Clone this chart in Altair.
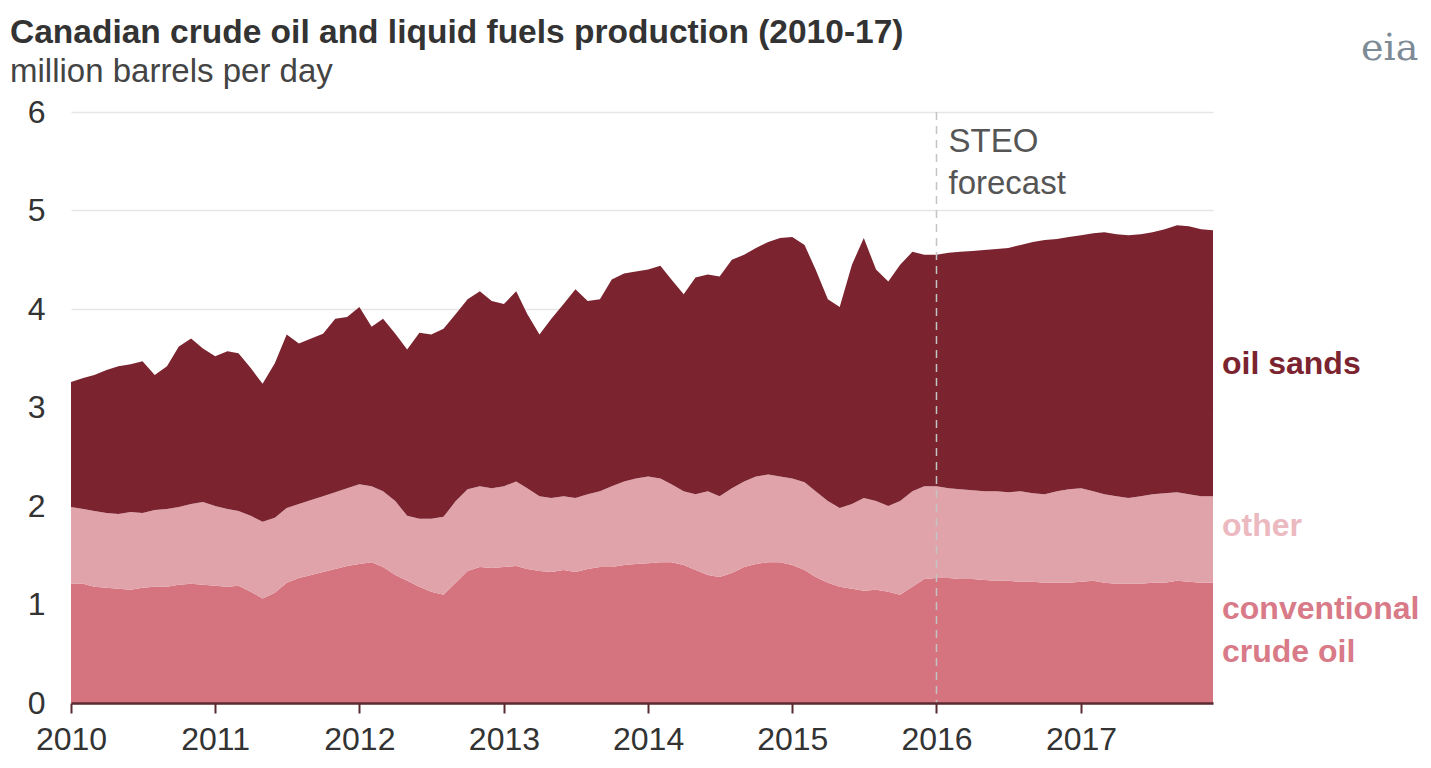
import altair as alt
import pandas as pd

# ---- data (million barrels per day, monthly Jan 2010 - Dec 2017) ----
months = pd.date_range("2010-01-01", "2017-12-01", freq="MS").strftime("%Y-%m-%d").tolist()

conventional = [
    1.21, 1.21, 1.18, 1.17, 1.16, 1.15, 1.17, 1.18, 1.18, 1.20, 1.21, 1.20,
    1.19, 1.18, 1.19, 1.13, 1.06, 1.12, 1.22, 1.27, 1.30, 1.33, 1.36, 1.39,
    1.41, 1.43, 1.38, 1.30, 1.24, 1.18, 1.13, 1.10, 1.22, 1.34, 1.38, 1.37,
    1.38, 1.39, 1.36, 1.34, 1.33, 1.35, 1.33, 1.36, 1.38, 1.38, 1.40, 1.41,
    1.42, 1.43, 1.43, 1.40, 1.35, 1.30, 1.28, 1.32, 1.38, 1.41, 1.43, 1.43,
    1.40, 1.35, 1.28, 1.22, 1.18, 1.16, 1.14, 1.15, 1.13, 1.10, 1.18, 1.26,
    1.27, 1.27, 1.26, 1.26, 1.25, 1.24, 1.24, 1.23, 1.23, 1.22, 1.22, 1.22,
    1.23, 1.24, 1.22, 1.21, 1.21, 1.21, 1.22, 1.22, 1.24, 1.23, 1.22, 1.22,
]
other = [
    0.78, 0.76, 0.77, 0.76, 0.76, 0.79, 0.76, 0.78, 0.79, 0.79, 0.81, 0.84,
    0.81, 0.79, 0.76, 0.77, 0.78, 0.76, 0.76, 0.75, 0.76, 0.77, 0.78, 0.79,
    0.81, 0.77, 0.77, 0.75, 0.66, 0.69, 0.74, 0.79, 0.83, 0.83, 0.82, 0.81,
    0.82, 0.86, 0.82, 0.76, 0.75, 0.75, 0.75, 0.76, 0.77, 0.82, 0.85, 0.87,
    0.88, 0.85, 0.79, 0.75, 0.77, 0.85, 0.82, 0.86, 0.87, 0.89, 0.89, 0.87,
    0.88, 0.89, 0.87, 0.83, 0.80, 0.86, 0.94, 0.90, 0.87, 0.95, 0.97, 0.94,
    0.93, 0.91, 0.91, 0.90, 0.90, 0.91, 0.90, 0.92, 0.90, 0.90, 0.93, 0.95,
    0.95, 0.91, 0.90, 0.89, 0.87, 0.89, 0.90, 0.91, 0.90, 0.89, 0.88, 0.88,
]
oil_sands = [
    1.27, 1.33, 1.38, 1.45, 1.50, 1.50, 1.54, 1.37, 1.45, 1.63, 1.68, 1.56,
    1.52, 1.60, 1.60, 1.50, 1.40, 1.57, 1.76, 1.63, 1.64, 1.65, 1.76, 1.74,
    1.80, 1.62, 1.75, 1.70, 1.69, 1.89, 1.87, 1.91, 1.90, 1.93, 1.98, 1.90,
    1.85, 1.93, 1.77, 1.64, 1.82, 1.95, 2.12, 1.96, 1.95, 2.10, 2.11, 2.10,
    2.10, 2.16, 2.08, 2.00, 2.20, 2.20, 2.23, 2.32, 2.30, 2.32, 2.36, 2.42,
    2.45, 2.41, 2.25, 2.05, 2.04, 2.43, 2.64, 2.35, 2.28, 2.40, 2.43, 2.35,
    2.35, 2.39, 2.41, 2.43, 2.45, 2.46, 2.48, 2.50, 2.55, 2.58, 2.56, 2.56,
    2.57, 2.62, 2.66, 2.66, 2.67, 2.66, 2.66, 2.68, 2.71, 2.72, 2.71, 2.70,
]

series_names = ["conventional crude oil", "other", "oil sands"]
series_colors = ["#D5737F", "#E0A3AA", "#7B2430"]
year_ticks = [f"{y}-01-01" for y in range(2010, 2018)]
forecast_start = "2016-01-01"

title_text = "Canadian crude oil and liquid fuels production (2010-17)"
subtitle_text = "million barrels per day"

# ---- build table ----
rows = []
for k, (name, vals) in enumerate(zip(series_names, [conventional, other, oil_sands])):
    for d, v in zip(months, vals):
        rows.append({"date": d, "series": name, "value": v, "ord": k})
df = pd.DataFrame(rows)

W, H = 1142, 591
FONT = "Liberation Sans"

xscale = alt.Scale(type="utc", domain=[months[0], months[-1]], nice=False)
yscale = alt.Scale(domain=[0, 6], nice=False)

area = alt.Chart(df).mark_area(interpolate="linear").encode(
    x=alt.X("date:T", scale=xscale, title=None,
            axis=alt.Axis(values=year_ticks, format="%Y", grid=False, domain=True,
                          domainColor="#5a2a30", domainWidth=2.5, ticks=True,
                          tickColor="#5a2a30", tickWidth=2, tickSize=10,
                          labelFontSize=32, labelColor="#333333", labelPadding=11,
                          labelFlush=False, labelOverlap=False,
                          labelFont=FONT, zindex=1)),
    y=alt.Y("value:Q", stack="zero", scale=yscale, title=None,
            axis=alt.Axis(values=[0, 1, 2, 3, 4, 5, 6], format="d", grid=True,
                          gridColor="#e6e6e6", gridWidth=1.5, domain=False, ticks=False,
                          tickSize=0, labelFontSize=32, labelColor="#333333",
                          labelPadding=26, labelFont=FONT)),
    color=alt.Color("series:N", scale=alt.Scale(domain=series_names, range=series_colors),
                    legend=None),
    order=alt.Order("ord:Q", sort="ascending"),
)

rule = alt.Chart(pd.DataFrame({"date": [forecast_start]})).mark_rule(
    strokeDash=[8, 6], color="#c4c4c4", strokeWidth=1.5
).encode(x=alt.X("date:T", scale=xscale), y=alt.value(0), y2=alt.value(H))

steo = alt.Chart(pd.DataFrame({"date": [forecast_start], "t": ["STEO\nforecast"]})).mark_text(
    align="left", baseline="alphabetic", lineBreak="\n", lineHeight=42, fontSize=33,
    color="#555555", dx=12, font=FONT
).encode(x=alt.X("date:T", scale=xscale), y=alt.value(40), text="t:N")

def series_label(texts, positions, color):
    return alt.Chart(pd.DataFrame({"t": texts, "pos": positions})).mark_text(
        align="left", baseline="middle", fontSize=32, fontWeight="bold", color=color, font=FONT
    ).encode(x=alt.value(W + 9), y=alt.Y("pos:Q", scale=yscale), text="t:N")

lab_os = series_label(["oil sands"], [3.44], "#7B2430")
lab_ot = series_label(["other"], [1.80], "#EBB9BF")
lab_cv = series_label(["conventional", "crude oil"], [0.95, 0.52], "#D87A87")

title = alt.Chart(pd.DataFrame({"t": [title_text]})).mark_text(
    align="left", baseline="alphabetic", fontSize=33.5, fontWeight="bold", color="#333333", font=FONT
).encode(x=alt.value(-61), y=alt.value(-69), text="t:N")

subtitle = alt.Chart(pd.DataFrame({"t": [subtitle_text]})).mark_text(
    align="left", baseline="alphabetic", fontSize=33, color="#444444", font=FONT
).encode(x=alt.value(-61), y=alt.value(-30), text="t:N")

logo = alt.Chart(pd.DataFrame({"t": ["eia"]})).mark_text(
    align="left", baseline="alphabetic", fontSize=38, color="#7d8b97", font="DejaVu Serif"
).encode(x=alt.value(1290), y=alt.value(-52), text="t:N")

chart = alt.layer(area, rule, steo, lab_os, lab_ot, lab_cv, title, subtitle, logo).properties(
    width=W, height=H,
    autosize=alt.AutoSizeParams(type="none"),
    padding={"left": 63, "top": 104, "right": 210, "bottom": 55},
).configure(font=FONT).configure_view(stroke=None)

chart.save("out.html", embed_options={"renderer": "svg", "actions": False})
